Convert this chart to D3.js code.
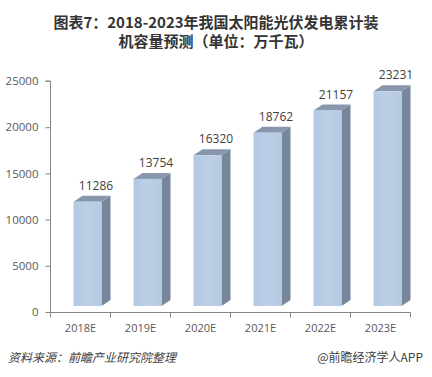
<!DOCTYPE html>
<html>
<head>
<meta charset="utf-8">
<script src="https://cdn.jsdelivr.net/npm/d3@7"></script>
<style>
  body { margin: 0; background: #fff; }
  svg { display: block; font-family: "Noto Sans CJK SC", "Noto Sans", sans-serif; }
</style>
</head>
<body>
<script>
const years = ["2018E", "2019E", "2020E", "2021E", "2022E", "2023E"];
const values = [11286, 13754, 16320, 18762, 21157, 23231];
const yTicks = [0, 5000, 10000, 15000, 20000, 25000];
const titleLines = ["图表7：2018-2023年我国太阳能光伏发电累计装", "机容量预测（单位：万千瓦）"];
const sourceText = "资料来源：前瞻产业研究院整理";
const brandText = "@前瞻经济学人APP";

const width = 432, height = 377;
const depthX = 9, depthY = 6;   // 3d offset of the bars
const frontW = 28, frontOff = 23;

const svg = d3.select("body").append("svg")
    .attr("width", width)
    .attr("height", height);

// title
svg.append("g").selectAll("text")
  .data(titleLines)
  .enter().append("text")
    .attr("x", 216)
    .attr("y", (d, i) => 28 + i * 19)
    .attr("text-anchor", "middle")
    .attr("font-size", "15px")
    .attr("font-weight", "bold")
    .attr("fill", "#333")
    .text(d => d);

const x = d3.scaleBand()
    .domain(years)
    .range([50.5, 410.5]);

const y = d3.scaleLinear()
    .domain([0, 25000])
    .range([312, 81]);

// y axis
const yAxis = svg.append("g")
    .attr("transform", "translate(50.5,0)")
    .call(d3.axisLeft(y).tickValues(yTicks).tickSize(5).tickPadding(7).tickFormat(d3.format("d")));
yAxis.selectAll("line, path").attr("stroke", "#868686");
yAxis.selectAll("text").attr("font-size", "11.5px").attr("fill", "#595959")
    .attr("font-family", "'Open Sans', sans-serif");
yAxis.select(".domain").attr("d", `M-5,${y(25000)}H0V${y(0)}`);

// x axis
const xAxis = svg.append("g")
    .attr("transform", `translate(0,${y(0) + 0.5})`);
xAxis.append("path")
    .attr("d", `M${x.range()[0]},0H${x.range()[1]}`)
    .attr("stroke", "#868686");
xAxis.selectAll("line")
  .data(years.concat(["end"]))
  .enter().append("line")
    .attr("x1", (d, i) => x.range()[0] + i * x.bandwidth())
    .attr("x2", (d, i) => x.range()[0] + i * x.bandwidth())
    .attr("y1", 0).attr("y2", 5)
    .attr("stroke", "#868686");
xAxis.selectAll("text")
  .data(years)
  .enter().append("text")
    .attr("x", d => x(d) + x.bandwidth() / 2)
    .attr("y", 19)
    .attr("text-anchor", "middle")
    .attr("font-size", "11px")
    .attr("fill", "#595959")
    .attr("font-family", "'Open Sans', sans-serif")
    .text(d => d);

// gradient for front face
const defs = svg.append("defs");
const grad = defs.append("linearGradient").attr("id", "front")
    .attr("x1", 0).attr("x2", 1).attr("y1", 0).attr("y2", 0);
grad.append("stop").attr("offset", "0%").attr("stop-color", "#b4c8e2");
grad.append("stop").attr("offset", "50%").attr("stop-color", "#bccfe7");
grad.append("stop").attr("offset", "100%").attr("stop-color", "#b6cae3");

const data = years.map((c, i) => ({cat: c, v: values[i]}));

const bars = svg.append("g").selectAll("g.bar")
  .data(data)
  .enter().append("g")
    .attr("class", "bar");

const fx = d => x(d.cat) + frontOff;
const barTop = d => y(d.v) - depthY;
const barBot = () => y(0) - depthY;

// side face
bars.append("path")
    .attr("fill", "#77869b")
    .attr("d", d => `M${fx(d) + frontW},${barTop(d)}L${fx(d) + frontW + depthX},${barTop(d) - depthY}` +
      `L${fx(d) + frontW + depthX},${barBot() - depthY}L${fx(d) + frontW},${barBot()}Z`);

// top face
bars.append("path")
    .attr("fill", "#8897ad")
    .attr("d", d => `M${fx(d)},${barTop(d)}L${fx(d) + depthX},${barTop(d) - depthY}` +
      `L${fx(d) + frontW + depthX},${barTop(d) - depthY}L${fx(d) + frontW},${barTop(d)}Z`);

bars.append("rect")
    .attr("x", fx)
    .attr("y", barTop)
    .attr("width", frontW)
    .attr("height", d => barBot() - barTop(d))
    .attr("fill", "url(#front)");

bars.append("text")
    .attr("x", d => fx(d) + 22.5)
    .attr("y", d => barTop(d) - 12)
    .attr("text-anchor", "middle")
    .attr("font-size", "12px")
    .attr("fill", "#404040")
    .attr("font-family", "'Open Sans', sans-serif")
    .text(d => d.v);

// footer
svg.append("text")
    .attr("x", 8)
    .attr("y", 362)
    .attr("font-size", "12px")
    .attr("font-style", "italic")
    .attr("fill", "#404040")
    .text(sourceText);

svg.append("text")
    .attr("x", 423)
    .attr("y", 362)
    .attr("text-anchor", "end")
    .attr("font-size", "12px")
    .attr("fill", "#404040")
    .text(brandText);
</script>
</body>
</html>
